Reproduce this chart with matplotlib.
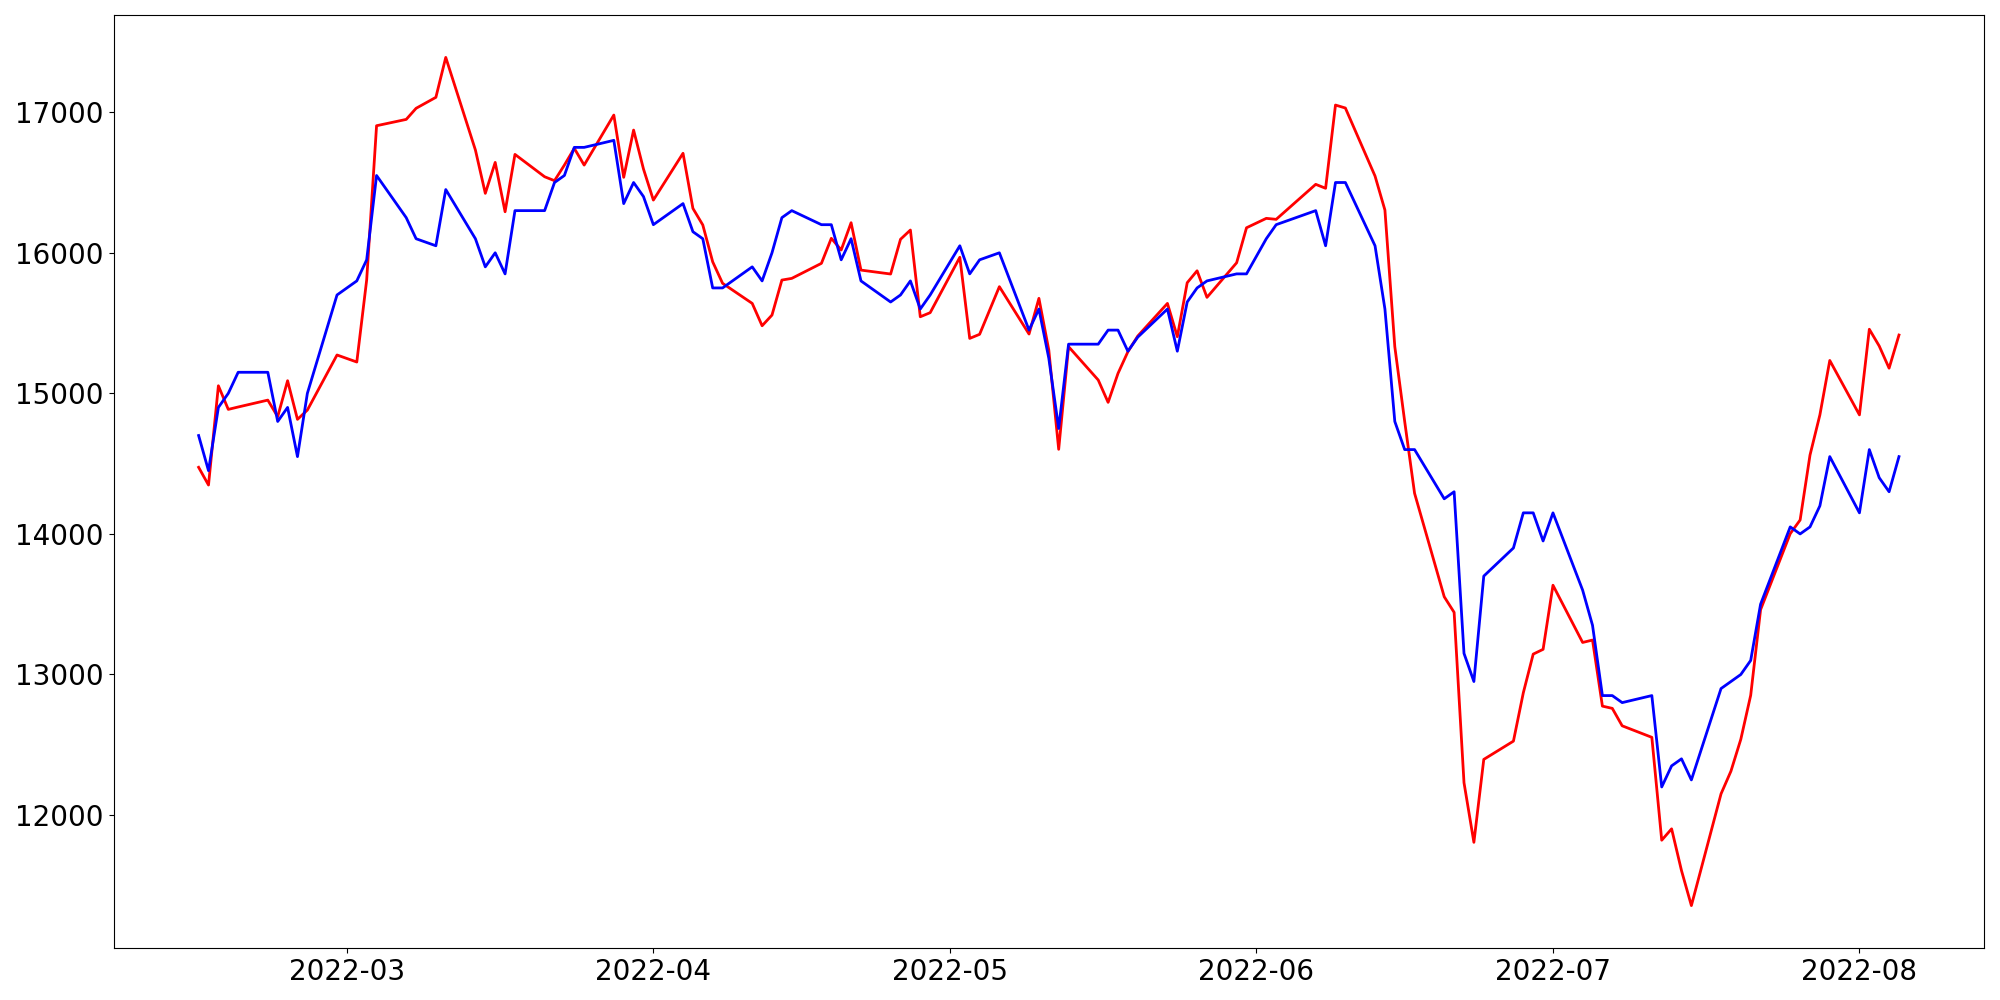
import matplotlib
matplotlib.use("Agg")
import matplotlib.pyplot as plt
import pandas as pd

# Korean trading days, 2022-02-14 .. 2022-08-05
holidays = ["2022-03-01", "2022-03-09", "2022-05-05", "2022-06-01", "2022-06-06"]
dates = pd.bdate_range("2022-02-14", "2022-08-05", freq="C", holidays=holidays)

red_values = [
    # Feb
    14474, 14348, 15054, 14886, 14903, 14952, 14834, 15090, 14815, 14881, 15273,
    # Mar
    15223, 15807, 16904, 16949, 17028, 17106, 17390, 16731, 16423, 16643, 16292,
    16700, 16541, 16513, 16624, 16743, 16624, 16980, 16537, 16873, 16596,
    # Apr
    16375, 16708, 16316, 16198, 15936, 15783, 15640, 15481, 15557, 15806, 15818,
    15925, 16103, 16020, 16214, 15877, 15849, 16096, 16162, 15545, 15574,
    # May
    15968, 15391, 15420, 15759, 15422, 15676, 15308, 14602, 15332, 15095, 14936,
    15142, 15296, 15408, 15640, 15403, 15787, 15872, 15683, 15929, 16178,
    # Jun
    16245, 16238, 16487, 16459, 17051, 17030, 16546, 16304, 15332, 14800, 14289,
    13553, 13442, 12230, 11806, 12396, 12526, 12870, 13145, 13179,
    # Jul
    13635, 13228, 13245, 12775, 12759, 12635, 12553, 11821, 11902, 11605, 11356,
    12151, 12312, 12539, 12852, 13461, 14002, 14099, 14561, 14847, 15234,
    # Aug
    14847, 15456, 15337, 15179, 15415,
]

blue_values = [
    # Feb
    14700, 14450, 14900, 15000, 15150, 15150, 14800, 14900, 14550, 15000, 15700,
    # Mar
    15800, 15950, 16550, 16250, 16100, 16050, 16450, 16100, 15900, 16000, 15850,
    16300, 16300, 16500, 16550, 16750, 16750, 16800, 16350, 16500, 16400,
    # Apr
    16200, 16350, 16150, 16100, 15750, 15750, 15900, 15800, 16000, 16250, 16300,
    16200, 16200, 15950, 16100, 15800, 15650, 15700, 15800, 15600, 15700,
    # May
    16050, 15850, 15950, 16000, 15450, 15600, 15250, 14750, 15350, 15350, 15450,
    15450, 15300, 15400, 15600, 15300, 15650, 15750, 15800, 15850, 15850,
    # Jun
    16100, 16200, 16300, 16050, 16500, 16500, 16050, 15600, 14800, 14600, 14600,
    14250, 14300, 13150, 12950, 13700, 13900, 14150, 14150, 13950,
    # Jul
    14150, 13600, 13350, 12850, 12850, 12800, 12850, 12200, 12350, 12400, 12250,
    12900, 12950, 13000, 13100, 13500, 14050, 14000, 14050, 14200, 14550,
    # Aug
    14150, 14600, 14400, 14300, 14550,
]

fig = plt.figure(figsize=(20, 10), dpi=100)
ax = fig.add_axes([0.0568, 0.052, 0.9352, 0.933])
ax.plot(dates, red_values, color="red", linewidth=2)
ax.plot(dates, blue_values, color="blue", linewidth=2)
ax.tick_params(axis="both", labelsize=20)
fig.savefig("out.png", dpi=100)
